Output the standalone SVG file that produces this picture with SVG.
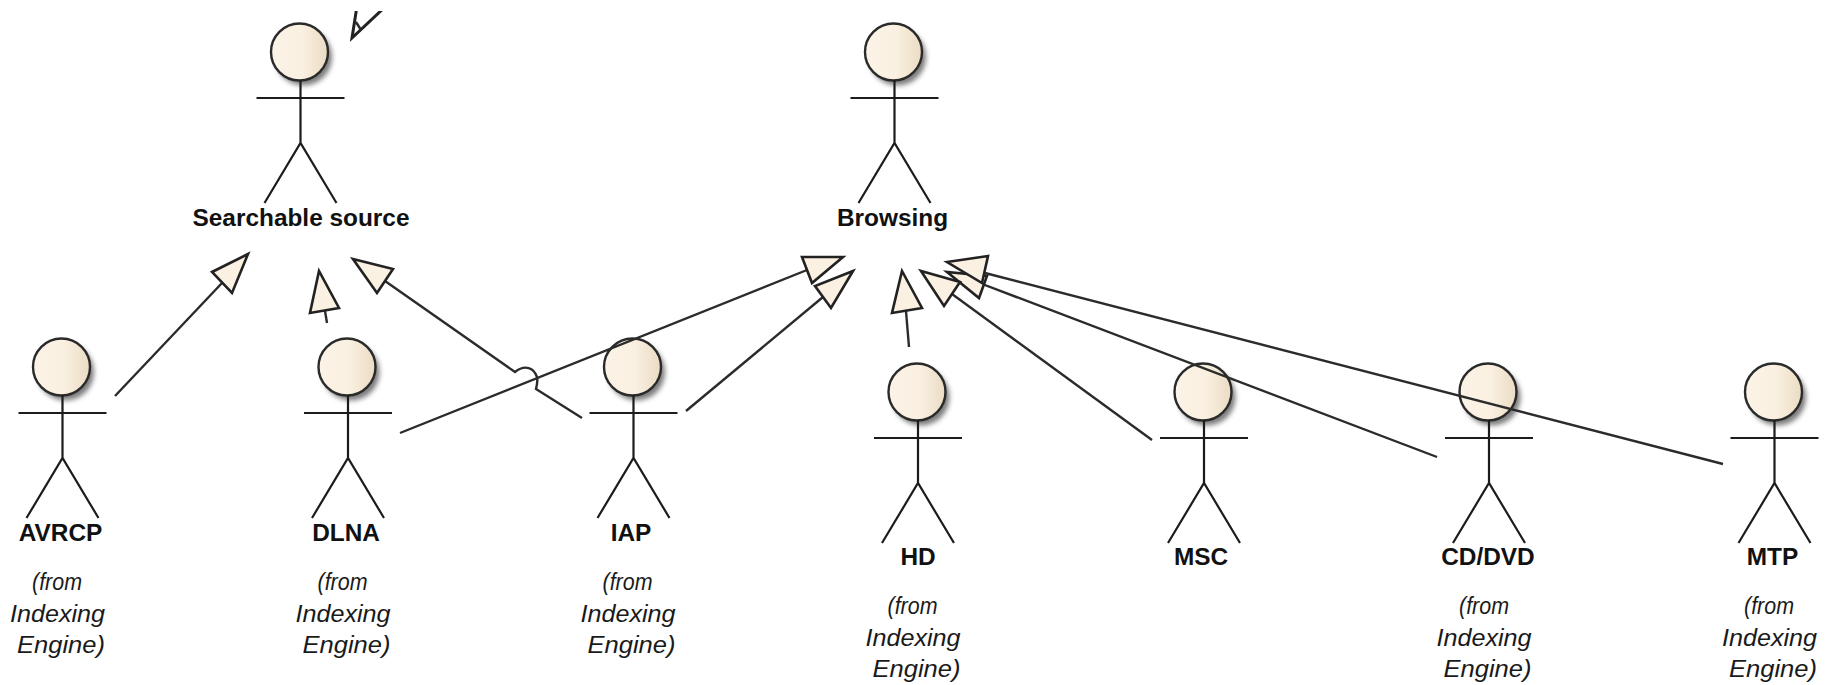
<svg xmlns="http://www.w3.org/2000/svg" width="1829" height="685" viewBox="0 0 1829 685">
<style>
.fig{fill:none;stroke:#1c1c1c;stroke-width:2.2}
.head{fill:url(#hg);stroke:#2a2a2a;stroke-width:2.4}
.shadow{fill:#666;opacity:.85;filter:url(#blur)}
.name{font:bold 24.4px "Liberation Sans",Arial,sans-serif;fill:#111;text-anchor:middle}
.from{font:italic 24px "Liberation Sans",Arial,sans-serif;fill:#1a1a1a;text-anchor:middle}
.line{fill:none;stroke:#2b2b2b;stroke-width:2.4}
.tri{fill:#fbf1e2;stroke:#222;stroke-width:2.6;stroke-linejoin:miter}
</style>
<defs>
<linearGradient id="hg" x1="0" x2="1" y1="0" y2="0"><stop offset="0" stop-color="#fbf3e7"/><stop offset=".55" stop-color="#faf0e1"/><stop offset="1" stop-color="#eadbc3"/></linearGradient>
<filter id="blur" x="-30%" y="-30%" width="160%" height="160%"><feGaussianBlur stdDeviation="2.4"/></filter>
<clipPath id="topclip"><rect x="340" y="11" width="60" height="40"/></clipPath>
<g id="actor">
<circle class="shadow" cx="3" cy="5" r="28.500"/>
<circle class="head" cx="-1" cy="0" r="28.500"/>
<path class="fig" d="M0 28V91M-44 46H44M-36 151L0 91L36 151"/>
</g>
</defs>
<rect width="1829" height="685" fill="#fff"/>
<g id="node-searchable"><use href="#actor" x="300.500" y="52"/><text class="name" x="301" y="226">Searchable source</text></g>
<g id="node-browsing"><use href="#actor" x="894.500" y="52"/><text class="name" x="892.500" y="226">Browsing</text></g>
<g id="node-avrcp"><use href="#actor" x="62.500" y="367"/><text class="name" x="60.500" y="541">AVRCP</text><text class="from" x="57" y="590" textLength="50" lengthAdjust="spacingAndGlyphs">(from</text><text class="from" x="57.500" y="622" textLength="95" lengthAdjust="spacingAndGlyphs">Indexing</text><text class="from" x="61" y="653" textLength="88" lengthAdjust="spacingAndGlyphs">Engine)</text></g>
<g id="node-dlna"><use href="#actor" x="348" y="367"/><text class="name" x="346" y="541">DLNA</text><text class="from" x="342.500" y="590" textLength="50" lengthAdjust="spacingAndGlyphs">(from</text><text class="from" x="343" y="622" textLength="95" lengthAdjust="spacingAndGlyphs">Indexing</text><text class="from" x="346.500" y="653" textLength="88" lengthAdjust="spacingAndGlyphs">Engine)</text></g>
<g id="node-iap"><use href="#actor" x="633.500" y="367"/><text class="name" x="631" y="541">IAP</text><text class="from" x="627.500" y="590" textLength="50" lengthAdjust="spacingAndGlyphs">(from</text><text class="from" x="628" y="622" textLength="95" lengthAdjust="spacingAndGlyphs">Indexing</text><text class="from" x="631.500" y="653" textLength="88" lengthAdjust="spacingAndGlyphs">Engine)</text></g>
<g id="node-hd"><use href="#actor" x="918" y="392"/><text class="name" x="918" y="565">HD</text><text class="from" x="912.500" y="614" textLength="50" lengthAdjust="spacingAndGlyphs">(from</text><text class="from" x="913" y="646" textLength="95" lengthAdjust="spacingAndGlyphs">Indexing</text><text class="from" x="916.500" y="677" textLength="88" lengthAdjust="spacingAndGlyphs">Engine)</text></g>
<g id="node-msc"><use href="#actor" x="1204" y="392"/><text class="name" x="1201" y="565">MSC</text></g>
<g id="node-cddvd"><use href="#actor" x="1489" y="392"/><text class="name" x="1488" y="565">CD/DVD</text><text class="from" x="1484" y="614" textLength="50" lengthAdjust="spacingAndGlyphs">(from</text><text class="from" x="1484" y="646" textLength="95" lengthAdjust="spacingAndGlyphs">Indexing</text><text class="from" x="1487.500" y="677" textLength="88" lengthAdjust="spacingAndGlyphs">Engine)</text></g>
<g id="node-mtp"><use href="#actor" x="1774.500" y="392"/><text class="name" x="1772.500" y="565">MTP</text><text class="from" x="1769" y="614" textLength="50" lengthAdjust="spacingAndGlyphs">(from</text><text class="from" x="1769.500" y="646" textLength="95" lengthAdjust="spacingAndGlyphs">Indexing</text><text class="from" x="1773" y="677" textLength="88" lengthAdjust="spacingAndGlyphs">Engine)</text></g>
<g id="connectors">
<path class="line" d="M115 396L222 283"/><polygon class="tri" points="248,254 212,272 232,293"/>
<path class="line" d="M327 323L325 311"/><polygon class="tri" points="319,271 310,313 339,308"/>
<path class="line" d="M582 418L536 389Q538 381 537 377C534 368 525 364 515 372L385 281"/><polygon class="tri" points="353,259 393,269 377,293"/>
<path class="line" d="M400 433L807 270"/><polygon class="tri" points="843,257 802,257 812,283"/>
<path class="line" d="M686 411L823 297"/><polygon class="tri" points="853,271 815,286 831,308"/>
<path class="line" d="M909 347L906 311"/><polygon class="tri" points="902,271 892,313 922,308"/>
<path class="line" d="M1152 440L952 294"/>
<path class="line" d="M1437 457L977 282"/><polygon class="tri" points="947,272 979,298 987,276"/>
<polygon class="tri" points="921,271 944,306 960,282"/>
<path class="line" d="M1723 464L985 273"/><polygon class="tri" points="947,262 988,256 982,283"/>
<g clip-path="url(#topclip)"><polygon class="tri" style="fill:#fff;stroke-width:3" points="352,38 357,6 386,6"/><path class="line" d="M356 22L361 30"/></g>
</g>
</svg>
